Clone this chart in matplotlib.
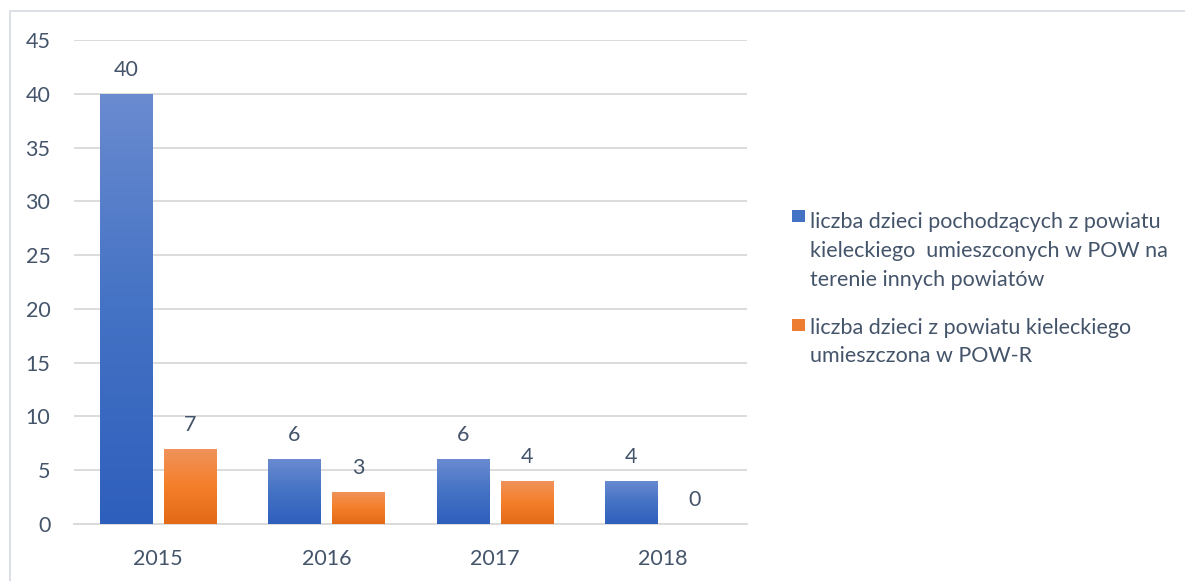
import matplotlib
matplotlib.use("Agg")
import matplotlib.pyplot as plt
import numpy as np
from matplotlib.colors import LinearSegmentedColormap
from matplotlib.patches import Rectangle, Patch
from matplotlib.legend_handler import HandlerBase

categories = ["2015", "2016", "2017", "2018"]
series1 = [40, 6, 6, 4]
series2 = [7, 3, 4, 0]
labels = ["liczba dzieci pochodzących z powiatu\nkieleckiego  umieszconych w POW na\nterenie innych powiatów",
          "liczba dzieci z powiatu kieleckiego\numieszczona w POW-R"]
yticks = [0, 5, 10, 15, 20, 25, 30, 35, 40, 45]

plt.rcParams['font.family'] = ['Lato', 'DejaVu Sans']
txt = '#44546A'
FS = 15.5
LS = 1.54

fig = plt.figure(figsize=(11.85, 5.81), dpi=100)
ax = fig.add_axes([74/1185, 1-524/581, (747-74)/1185, (524-40)/581])

x = np.arange(len(categories))
w = 0.31
off = 0.19
blue_cm = LinearSegmentedColormap.from_list('b', ['#2e5fbc', '#4472c4', '#6a8bd0'])
orange_cm = LinearSegmentedColormap.from_list('o', ['#e36a17', '#f47f2a', '#f0935c'])
grad = np.linspace(0, 1, 256).reshape(-1, 1)

def gbar(xs, vals, cm, solid):
    bars = ax.bar(xs, vals, w, color=solid, zorder=2)
    for b in bars:
        h = b.get_height()
        if h <= 0:
            continue
        x0 = b.get_x()
        im = ax.imshow(grad, cmap=cm, origin='lower', aspect='auto',
                       extent=[x0, x0 + b.get_width(), 0, h], zorder=3)
        im.set_clip_path(b)
    return bars

gbar(x - off, series1, blue_cm, '#4472c4')
gbar(x + off, series2, orange_cm, '#ed7d31')

for xi, v in zip(x - off, series1):
    ax.text(xi, v + 1.3, str(v), ha='center', va='bottom', fontsize=FS, color=txt)
for xi, v in zip(x + off, series2):
    ax.text(xi, v + 1.3, str(v), ha='center', va='bottom', fontsize=FS, color=txt)

ax.set_xlim(-0.5, 3.5)
ax.set_ylim(0, 45)
ax.set_yticks(yticks)
ax.set_xticks(x)
ax.set_xticklabels(categories)
ax.tick_params(axis='both', length=0, labelsize=FS, colors=txt)
ax.tick_params(axis='y', pad=17)
ax.tick_params(axis='x', pad=18)
ax.yaxis.grid(True, color='#d9d9d9', linewidth=1.3, zorder=0)
ax.set_axisbelow(True)
for s in ['top', 'right', 'left']:
    ax.spines[s].set_visible(False)
ax.spines['bottom'].set_color('#d9d9d9')
ax.spines['bottom'].set_linewidth(1.3)

fig.patches.append(Rectangle((10/1185, -0.1), 1.2, 1 - 11/581 + 0.1, transform=fig.transFigure,
                             fill=False, edgecolor='#d9dce3', linewidth=1.3))


class TopSquare(HandlerBase):
    def create_artists(self, legend, orig_handle, xdescent, ydescent, width, height, fontsize, trans):
        s = 9.0
        nlines = orig_handle._nlines
        line_h = fontsize * 1.87 * LS / 1.7
        top = height + (nlines - 1) * line_h / 2.0
        r = Rectangle((0, top - s - 1.5), s, s, facecolor=orig_handle.get_facecolor(),
                      edgecolor='none', transform=trans)
        return [r]


h1 = Patch(facecolor='#4472c4'); h1._nlines = 3
h2 = Patch(facecolor='#ed7d31'); h2._nlines = 2
leg = fig.legend([h1, h2], labels, loc='upper left', bbox_to_anchor=(773/1185, 1-193/581),
                 frameon=False, fontsize=FS, labelcolor=txt, handlelength=0.6, handleheight=0.7,
                 handletextpad=0.2, labelspacing=1.3,
                 handler_map={Patch: TopSquare()})
for t in leg.get_texts():
    t.set_linespacing(LS)

fig.savefig('out.png', dpi=100)
